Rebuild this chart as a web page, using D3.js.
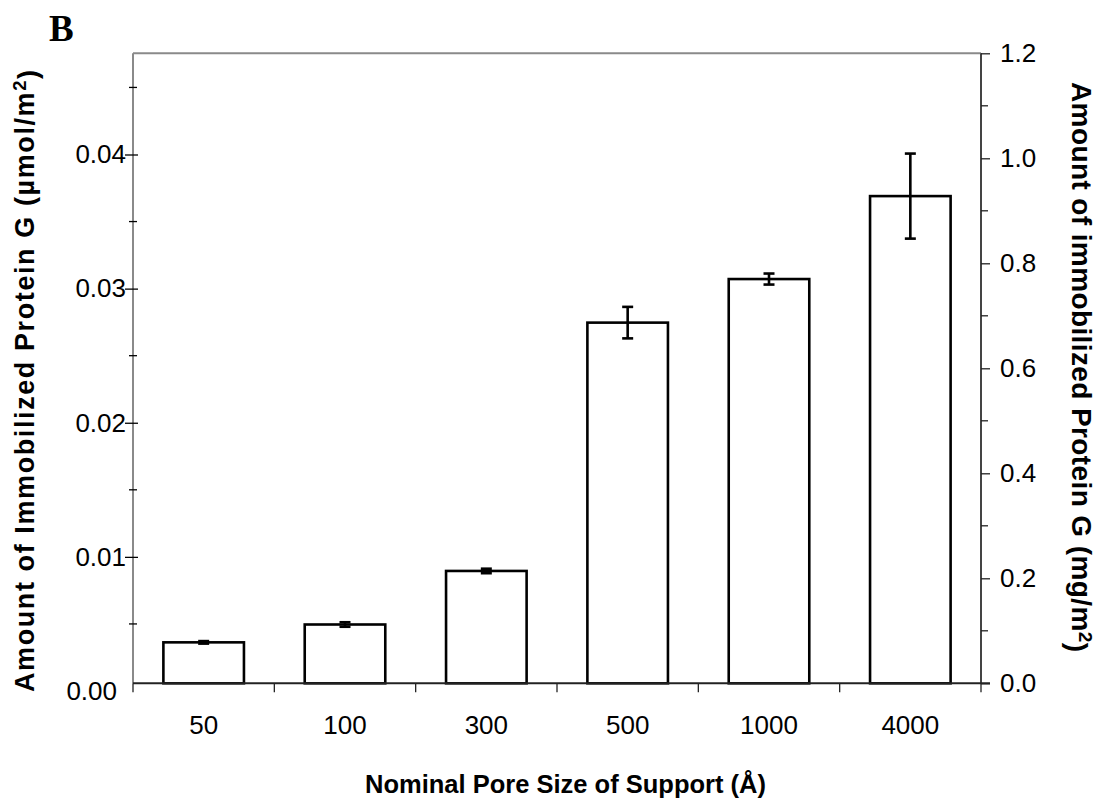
<!DOCTYPE html>
<html>
<head>
<meta charset="utf-8">
<script src="https://cdn.jsdelivr.net/npm/d3@7"></script>
<style>
  html, body { margin: 0; padding: 0; background: #fff; }
  svg { display: block; }
  text { font-family: "Liberation Sans", Arial, sans-serif; fill: #000; }
</style>
</head>
<body>
<svg id="chart" width="1097" height="806"></svg>
<script>
// Pore size categories (Å)
const categories = ["50", "100", "300", "500", "1000", "4000"];
// Immobilized protein G, mg/m² (right axis), with error half-widths
const amountMg = [0.078, 0.112, 0.214, 0.687, 0.770, 0.928];
const errorMg  = [0.0024, 0.0043, 0.0043, 0.030, 0.0105, 0.081];
// Axis ticks
const rightMajor = [0, 0.2, 0.4, 0.6, 0.8, 1.0, 1.2];
const rightMinor = [0.1, 0.3, 0.5, 0.7, 0.9, 1.1];
const leftMajor  = [0, 0.01, 0.02, 0.03, 0.04];
const leftMinor  = [0.005, 0.015, 0.025, 0.035, 0.045];

const svg = d3.select("#chart");
const plot = { left: 133, right: 981, top: 53.3, bottom: 683.3 };

const x = d3.scaleBand()
  .domain(categories)
  .range([plot.left, plot.right])
  .paddingInner(0.43)
  .paddingOuter(0.215);

const yRight = d3.scaleLinear().domain([0, 1.2]).range([plot.bottom, plot.top]);
const yLeft  = d3.scaleLinear().domain([0, 0.04]).range([691, 154.5]);

// Frame: top line and left spine (gray)
svg.append("line")
  .attr("x1", plot.left).attr("x2", plot.right)
  .attr("y1", plot.top).attr("y2", plot.top)
  .attr("stroke", "#8a8a8a").attr("stroke-width", 2);

// Left axis (µmol/m²)
const gLeft = svg.append("g").attr("transform", `translate(${plot.left},0)`);
gLeft.append("line")
  .attr("x1", 0).attr("x2", 0)
  .attr("y1", plot.top).attr("y2", plot.bottom)
  .attr("stroke", "#8a8a8a").attr("stroke-width", 2);
gLeft.append("g")
  .call(d3.axisLeft(yLeft).tickValues(leftMajor).tickSize(0).tickPadding(7)
    .tickFormat(d3.format(".2f")))
  .call(s => s.select(".domain").remove())
  .call(s => s.selectAll("text").attr("font-size", 26).attr("fill", "#000")
    .attr("dx", d => d === 0 ? -9 : 0))
  .call(s => s.selectAll(".tick").filter(d => d > 0).append("line")
    .attr("x1", -8).attr("x2", 5).attr("stroke", "#000").attr("stroke-width", 1.3));
gLeft.selectAll(".minor")
  .data(leftMinor).join("line")
  .attr("class", "minor")
  .attr("x1", -4).attr("x2", 4)
  .attr("y1", d => yLeft(d)).attr("y2", d => yLeft(d))
  .attr("stroke", "#000").attr("stroke-width", 1.3);

// Right axis (mg/m²)
const gRight = svg.append("g").attr("transform", `translate(${plot.right},0)`);
gRight.append("line")
  .attr("x1", 0).attr("x2", 0)
  .attr("y1", plot.top).attr("y2", plot.bottom)
  .attr("stroke", "#444").attr("stroke-width", 2);
gRight.append("g")
  .call(d3.axisRight(yRight).tickValues(rightMajor).tickSize(9).tickPadding(10)
    .tickFormat(d3.format(".1f")))
  .call(s => s.select(".domain").remove())
  .call(s => s.selectAll("line").attr("stroke", "#222").attr("stroke-width", 1.3))
  .call(s => s.selectAll("text").attr("font-size", 26).attr("fill", "#000"));
gRight.selectAll(".minor")
  .data(rightMinor).join("line")
  .attr("class", "minor")
  .attr("x1", 0).attr("x2", 7)
  .attr("y1", d => yRight(d)).attr("y2", d => yRight(d))
  .attr("stroke", "#222").attr("stroke-width", 1.3);

// Bars
svg.append("g").selectAll("rect")
  .data(categories).join("rect")
  .attr("x", d => x(d))
  .attr("width", x.bandwidth())
  .attr("y", (d, i) => yRight(amountMg[i]))
  .attr("height", (d, i) => plot.bottom - yRight(amountMg[i]))
  .attr("fill", "#fff")
  .attr("stroke", "#000")
  .attr("stroke-width", 2.6);

// Error bars
const capHalf = 5.5;
const gErr = svg.append("g").attr("stroke", "#000").attr("stroke-width", 2.6);
categories.forEach((c, i) => {
  const cx = x(c) + x.bandwidth() / 2;
  const hi = yRight(amountMg[i] + errorMg[i]);
  const lo = yRight(amountMg[i] - errorMg[i]);
  gErr.append("line").attr("x1", cx).attr("x2", cx).attr("y1", hi).attr("y2", lo);
  gErr.append("line").attr("x1", cx - capHalf).attr("x2", cx + capHalf).attr("y1", hi).attr("y2", hi);
  gErr.append("line").attr("x1", cx - capHalf).attr("x2", cx + capHalf).attr("y1", lo).attr("y2", lo);
});

// Bottom axis: baseline, boundary ticks, category labels
svg.append("line")
  .attr("x1", plot.left).attr("x2", plot.right + 9)
  .attr("y1", plot.bottom).attr("y2", plot.bottom)
  .attr("stroke", "#222").attr("stroke-width", 2);
const boundaries = categories.map(c => x(c) - x.step() * x.paddingInner() / 2);
boundaries[0] = plot.left;
boundaries.push(plot.right);
svg.append("g").selectAll("line")
  .data(boundaries).join("line")
  .attr("x1", d => d).attr("x2", d => d)
  .attr("y1", plot.bottom).attr("y2", plot.bottom + 9)
  .attr("stroke", "#222").attr("stroke-width", 1.3);
svg.append("g")
  .attr("transform", `translate(0,${plot.bottom})`)
  .call(d3.axisBottom(x).tickSize(0).tickPadding(32))
  .call(s => s.select(".domain").remove())
  .call(s => s.selectAll("text").attr("font-size", 26).attr("fill", "#000"));

// Axis titles
svg.append("text")
  .attr("x", 365).attr("y", 793)
  .attr("font-size", 25.5).attr("font-weight", "bold")
  .text("Nominal Pore Size of Support (Å)");

// Title with a raised "2" for the squared unit
function unitTitle(sel, main, unit) {
  sel.append("tspan").text(main + " (" + unit);
  sel.append("tspan").attr("dy", "-0.42em").attr("font-size", "0.68em").text("2");
  sel.append("tspan").attr("dy", "0.42em").text(")");
}

svg.append("text")
  .attr("transform", "translate(33.5,692) rotate(-90)")
  .attr("text-anchor", "start")
  .attr("font-size", 27).attr("font-weight", "bold")
  .attr("textLength", 622).attr("lengthAdjust", "spacing")
  .call(unitTitle, "Amount of Immobilized Protein G", "µmol/m");

svg.append("text")
  .attr("transform", "translate(1071.5,82) rotate(90)")
  .attr("text-anchor", "start")
  .attr("font-size", 28).attr("font-weight", "bold")
  .attr("textLength", 570).attr("lengthAdjust", "spacing")
  .call(unitTitle, "Amount of immobilized Protein G", "mg/m");

// Panel letter
svg.append("text")
  .attr("x", 49).attr("y", 40.5)
  .style("font-family", "'Liberation Serif', 'Times New Roman', serif")
  .attr("font-size", 37).attr("font-weight", "bold")
  .text("B");
</script>
</body>
</html>
